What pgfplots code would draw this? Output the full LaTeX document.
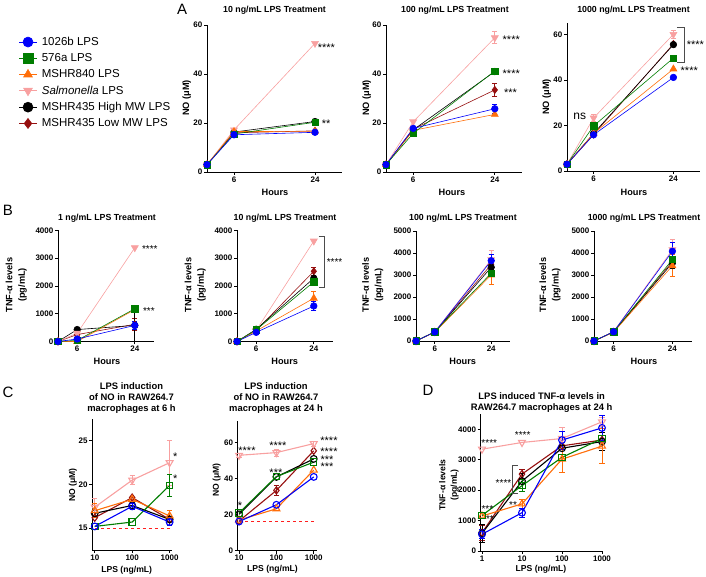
\documentclass[border=0pt]{standalone}
\usepackage{fontspec}
\setmainfont{Liberation Sans}
\usepackage{pgfplots}
\pgfplotsset{compat=1.18}

\definecolor{cBlue}{RGB}{0,0,250}
\definecolor{cGreen}{RGB}{0,125,0}
\definecolor{cOrange}{RGB}{255,110,10}
\definecolor{cPink}{RGB}{248,160,160}
\definecolor{cRed}{RGB}{150,15,15}
\definecolor{cDash}{RGB}{255,30,30}

\newcommand{\tkf}{\fontsize{8}{9}\selectfont\bfseries}
\newcommand{\ttf}{\fontsize{8.8}{11.3}\selectfont\bfseries}
\newcommand{\lbf}{\fontsize{9.2}{12.5}\selectfont\bfseries}
\newcommand{\slbf}{\fontsize{8.6}{11.5}\selectfont\bfseries}

\pgfplotsset{
  panel/.style={
    scale only axis, axis lines*=left, clip=false,
    axis line style={line width=0.9pt},
    tick align=outside, major tick length=3pt,
    every tick/.style={black, line width=0.8pt},
    ticklabel style={font=\tkf, inner sep=1.5pt},
    xminorticks=false, yminorticks=false,
    /pgf/number format/assume math mode=true,
    /pgf/number format/1000 sep={},
    scaled ticks=false,
  },
  hours/.style={panel, xmin=0, xmax=30, ymin=0, xtick={6,24}},
  f1/.style={cBlue, line width=0.6pt, mark=*, mark size=3.3pt, mark options={solid, fill=cBlue}},
  f2/.style={cGreen, line width=0.6pt, mark=square*, mark size=3.2pt, mark options={solid, fill=cGreen}},
  f3/.style={cOrange, line width=0.6pt, mark=triangle*, mark size=4pt, mark options={solid, fill=cOrange}},
  f4/.style={cPink, line width=0.6pt, mark=triangle*, mark size=4pt, mark options={solid, fill=cPink, rotate=180}},
  f5/.style={black, line width=0.6pt, mark=*, mark size=3.3pt, mark options={solid, fill=black}},
  f6/.style={cRed, line width=0.6pt, mark=diamond*, mark size=3.6pt, mark options={solid, fill=cRed}},
  o1/.style={cBlue, line width=1.1pt, mark=o, mark size=3.4pt, mark options={solid}},
  o2/.style={cGreen, line width=1.1pt, mark=square, mark size=3.2pt, mark options={solid}},
  o3/.style={cOrange, line width=1.1pt, mark=triangle, mark size=4pt, mark options={solid}},
  o4/.style={cPink, line width=1.1pt, mark=triangle, mark size=4pt, mark options={solid, rotate=180}},
  o5/.style={black, line width=1.1pt, mark=o, mark size=3.4pt, mark options={solid}},
  o6/.style={cRed, line width=1.1pt, mark=diamond, mark size=3.6pt, mark options={solid}},
}
\tikzset{ast/.style={font=\fontsize{11}{11}\selectfont, inner sep=0pt, yshift=-2.3pt},
  sast/.style={font=\fontsize{10}{10}\selectfont, inner sep=0pt, yshift=-2pt}}

% error bars of one series, color and coordinates
\newcommand{\eb}[2]{\addplot[forget plot, draw=none, mark=none,
  error bars/.cd, y dir=both, y explicit,
  error bar style={draw=#1, line width=0.8pt},
  error mark options={draw=#1, rotate=90, mark size=2.6pt, line width=0.8pt}]
  coordinates {#2};}

\begin{document}
\begin{tikzpicture}[x=1pt,y=1pt]
\path[use as bounding box] (0pt,0pt) rectangle (706pt,577pt);

% ---------------- A ----------------
\begin{axis}[hours, at={(207pt,405pt)}, anchor=south west, width=135pt, height=147pt,
  ymax=60, ytick={0,20,40,60}, reverse legend,
  legend style={at={(-1.415,0.946)}, anchor=north west, draw=none, fill=none,
    font=\fontsize{11.5}{13}\selectfont, row sep=2.6pt, cells={anchor=west},
    /tikz/every odd column/.append style={column sep=3pt}},
  legend image post style={mark size=5pt}]
\addplot[f6] coordinates {(0,3)(6,16)(24,16.8)}; \addlegendentry{MSHR435 Low MW LPS}
\addplot[f5] coordinates {(0,3)(6,16.3)(24,20.6)}; \addlegendentry{MSHR435 High MW LPS}
\addplot[f4] coordinates {(0,3)(6,17.2)(24,52.5)}; \addlegendentry{\textit{Salmonella} LPS}
\addplot[f3] coordinates {(0,3)(6,16.5)(24,16.6)}; \addlegendentry{MSHR840 LPS}
\addplot[f2] coordinates {(0,3)(6,15.5)(24,20.3)}; \addlegendentry{576a LPS}
\addplot[f1] coordinates {(0,3)(6,15.2)(24,16.2)}; \addlegendentry{1026b LPS}
\node[ast, anchor=west] at (axis cs:24.6,51.8) {****};
\node[ast, anchor=west] at (axis cs:25.5,20.8) {**};
\end{axis}

\begin{axis}[hours, at={(386pt,405pt)}, anchor=south west, width=136pt, height=147pt,
  ymax=60, ytick={0,20,40,60}]
\addplot[f6] coordinates {(0,3)(6,17.5)(24,33.5)};
\addplot[f5] coordinates {(0,3)(6,17.2)(24,41)};
\addplot[f4] coordinates {(0,3)(6,20.5)(24,54.8)};
\addplot[f3] coordinates {(0,3)(6,17)(24,23.5)};
\addplot[f2] coordinates {(0,3)(6,15.8)(24,41.2)};
\addplot[f1] coordinates {(0,3)(6,17.8)(24,25.8)};
\eb{cRed}{(24,33.5) +- (0,2.8)}
\eb{cPink}{(24,54.8) +- (0,2.5)}
\eb{cBlue}{(24,25.8) +- (0,1.8)}
\node[ast, anchor=west] at (axis cs:25.7,54.8) {****};
\node[ast, anchor=west] at (axis cs:25.7,41.2) {****};
\node[ast, anchor=west] at (axis cs:26,33.5) {***};
\end{axis}

\begin{axis}[hours, at={(567pt,406pt)}, anchor=south west, width=133pt, height=148pt,
  ymax=65, ytick={0,20,40,60}]
\addplot[f6] coordinates {(0,3)(6,16)(24,55.8)};
\addplot[f5] coordinates {(0,3)(6,16.5)(24,55.5)};
\addplot[f4] coordinates {(0,3)(6,23.3)(24,60)};
\addplot[f3] coordinates {(0,3)(6,16.5)(24,44.8)};
\addplot[f2] coordinates {(0,3)(6,19.8)(24,49.6)};
\addplot[f1] coordinates {(0,3)(6,15.9)(24,41.1)};
\eb{cPink}{(6,23.3) +- (0,1.5) (24,60) +- (0,1.8)}
\draw[black!70, line width=0.8pt] (axis cs:24.8,63) -- (axis cs:26.4,63) -- (axis cs:26.4,47.6) -- (axis cs:24.8,47.6);
\node[ast, anchor=west] at (axis cs:27,56.4) {****};
\node[ast, anchor=west] at (axis cs:25.6,44.9) {****};
\node[font=\fontsize{12}{12}\selectfont, anchor=west, inner sep=0pt] at (axis cs:1.4,23.8) {ns};
\end{axis}

\node[font=\fontsize{15}{15}\selectfont] at (182pt,568pt) {A};
\node[font=\ttf] at (274.5pt,567pt) {10 ng/mL LPS Treatment};
\node[font=\ttf] at (455pt,567pt) {100 ng/mL LPS Treatment};
\node[font=\ttf] at (633.5pt,567pt) {1000 ng/mL LPS Treatment};
\node[font=\lbf, rotate=90] at (186.7pt,479pt) {NO (μM)};
\node[font=\lbf, rotate=90] at (366.7pt,479pt) {NO (μM)};
\node[font=\lbf, rotate=90] at (546.7pt,480pt) {NO (μM)};
\node[font=\lbf] at (275pt,385pt) {Hours};
\node[font=\lbf] at (452pt,385pt) {Hours};
\node[font=\lbf] at (634pt,385pt) {Hours};

% ---------------- B ----------------
\begin{axis}[hours, at={(58pt,235.5pt)}, anchor=south west, width=96pt, height=111pt,
  ymax=4000, ytick={0,1000,2000,3000,4000}]
\addplot[f6] coordinates {(0,0)(6,250)(24,620)};
\addplot[f5] coordinates {(0,0)(6,430)(24,580)};
\addplot[f4] coordinates {(0,0)(6,300)(24,3380)};
\addplot[f3] coordinates {(0,0)(6,0)(24,1150)};
\addplot[f2] coordinates {(0,0)(6,40)(24,1180)};
\addplot[f1] coordinates {(0,0)(6,90)(24,580)};
\eb{cRed}{(24,620) +- (0,230)}
\eb{black}{(24,580) +- (0,580)}
\eb{cBlue}{(24,580) +- (0,150)}
\node[sast, anchor=west] at (axis cs:26.2,3388) {****};
\node[sast, anchor=west] at (axis cs:26.5,1180) {***};
\end{axis}

\begin{axis}[hours, at={(237pt,235.5pt)}, anchor=south west, width=96pt, height=111pt,
  ymax=4000, ytick={0,1000,2000,3000,4000}]
\addplot[f6] coordinates {(0,0)(6,400)(24,2530)};
\addplot[f5] coordinates {(0,0)(6,440)(24,2280)};
\addplot[f4] coordinates {(0,0)(6,400)(24,3620)};
\addplot[f3] coordinates {(0,0)(6,380)(24,1560)};
\addplot[f2] coordinates {(0,0)(6,420)(24,2150)};
\addplot[f1] coordinates {(0,0)(6,330)(24,1280)};
\eb{cRed}{(24,2530) +- (0,150)}
\eb{black}{(24,2280) +- (0,250)}
\eb{cOrange}{(24,1560) +- (0,250)}
\eb{cBlue}{(24,1280) +- (0,150)}
\draw[black!70, line width=0.8pt] (axis cs:25.5,3800) -- (axis cs:27.3,3800) -- (axis cs:27.3,1940) -- (axis cs:25.5,1940);
\node[sast, anchor=west] at (axis cs:28,2937) {****};
\end{axis}

\begin{axis}[hours, at={(416pt,236pt)}, anchor=south west, width=94pt, height=110pt,
  ymax=5000, ytick={0,1000,2000,3000,4000,5000}]
\addplot[f6] coordinates {(0,0)(6,410)(24,3480)};
\addplot[f5] coordinates {(0,0)(6,410)(24,3350)};
\addplot[f4] coordinates {(0,0)(6,420)(24,3700)};
\addplot[f3] coordinates {(0,0)(6,400)(24,3000)};
\addplot[f2] coordinates {(0,0)(6,420)(24,3080)};
\addplot[f1] coordinates {(0,0)(6,410)(24,3650)};
\eb{cPink}{(24,3700) +- (0,400)}
\eb{cOrange}{(24,3000) +- (0,420)}
\eb{cBlue}{(24,3650) +- (0,300)}
\end{axis}

\begin{axis}[hours, at={(594pt,236pt)}, anchor=south west, width=98pt, height=110pt,
  ymax=5000, ytick={0,1000,2000,3000,4000,5000}]
\addplot[f6] coordinates {(0,0)(6,420)(24,3620)};
\addplot[f5] coordinates {(0,0)(6,410)(24,3550)};
\addplot[f4] coordinates {(0,0)(6,430)(24,4150)};
\addplot[f3] coordinates {(0,0)(6,400)(24,3420)};
\addplot[f2] coordinates {(0,0)(6,420)(24,3700)};
\addplot[f1] coordinates {(0,0)(6,420)(24,4080)};
\eb{cPink}{(24,4150) +- (0,450)}
\eb{cOrange}{(24,3420) +- (0,500)}
\eb{black}{(24,3550) +- (0,250)}
\eb{cBlue}{(24,4080) +- (0,400)}
\end{axis}

\node[font=\fontsize{15}{15}\selectfont] at (8pt,367pt) {B};
\node[font=\ttf] at (107pt,359pt) {1 ng/mL LPS Treatment};
\node[font=\ttf] at (285pt,359pt) {10 ng/mL LPS Treatment};
\node[font=\ttf] at (463pt,359pt) {100 ng/mL LPS Treatment};
\node[font=\ttf] at (644pt,359pt) {1000 ng/mL LPS Treatment};
\node[font=\lbf, rotate=90, align=center] at (16.3pt,292pt) {TNF-α levels\\(pg/mL)};
\node[font=\lbf, rotate=90, align=center] at (195.3pt,292pt) {TNF-α levels\\(pg/mL)};
\node[font=\lbf, rotate=90, align=center] at (372.7pt,292pt) {TNF-α levels\\(pg/mL)};
\node[font=\lbf, rotate=90, align=center] at (550pt,292pt) {TNF-α levels\\(pg/mL)};
\node[font=\lbf] at (107pt,216pt) {Hours};
\node[font=\lbf] at (284.7pt,216pt) {Hours};
\node[font=\lbf] at (462.7pt,216pt) {Hours};
\node[font=\lbf] at (644pt,216pt) {Hours};

% ---------------- C ----------------
\begin{axis}[panel, at={(92.3pt,27pt)}, anchor=south west, width=80pt, height=131pt,
  xmode=log, xmin=8.6, xmax=1180, ymin=12.5, ymax=27.5, ytick={15,20,25},
  xtick={10,100,1000}, xticklabels={10,100,1000}]
\addplot[cDash, dashed, line width=1pt, forget plot] coordinates {(10,14.92)(1000,14.92)};
\addplot[o6] coordinates {(10,16.2)(100,18.5)(1000,16.0)};
\addplot[o5] coordinates {(10,16.7)(100,17.6)(1000,16.0)};
\addplot[o4] coordinates {(10,17.4)(100,20.5)(1000,22.5)};
\addplot[o3] coordinates {(10,17.0)(100,18.3)(1000,16.4)};
\addplot[o2] coordinates {(10,15.2)(100,15.7)(1000,19.9)};
\addplot[o1] coordinates {(10,15.2)(100,17.5)(1000,15.7)};
\eb{cPink}{(10,17.4) +- (0,1) (100,20.5) +- (0,0.5) (1000,22.5) +- (0,2.6)}
\eb{cOrange}{(10,17.0) +- (0,0.8) (1000,16.4) +- (0,0.6)}
\eb{cGreen}{(1000,19.9) +- (0,1.3)}
\eb{cBlue}{(100,17.5) +- (0,0.4) (1000,15.7) +- (0,0.4)}
\node[ast] at (axis cs:1422,23.4) {*};
\node[ast] at (axis cs:1422,20.9) {*};
\end{axis}

\begin{axis}[panel, at={(237.7pt,26.3pt)}, anchor=south west, width=79pt, height=129.6pt,
  xmode=log, xmin=9.2, xmax=1200, ymin=0, ymax=72, ytick={0,20,40,60},
  xtick={10,100,1000}, xticklabels={10,100,1000}]
\addplot[cDash, dashed, line width=1.1pt, forget plot] coordinates {(10,16.1)(1000,16.1)};
\addplot[o6] coordinates {(10,16.5)(100,33.5)(1000,55.5)};
\addplot[o5] coordinates {(10,20.2)(100,41)(1000,51)};
\addplot[o4] coordinates {(10,53)(100,54.5)(1000,59.5)};
\addplot[o3] coordinates {(10,17)(100,23.3)(1000,44.8)};
\addplot[o2] coordinates {(10,21)(100,41.2)(1000,49.2)};
\addplot[o1] coordinates {(10,16.2)(100,25.5)(1000,41)};
\eb{cPink}{(10,53) +- (0,1) (100,54.5) +- (0,2) (1000,59.5) +- (0,1.5)}
\eb{cRed}{(100,33.5) +- (0,3)}
\node[ast] at (axis cs:16.3,57) {****};
\node[ast] at (axis cs:110,59.8) {****};
\node[ast] at (axis cs:2560,62.2) {****};
\node[ast] at (axis cs:2560,56.1) {****};
\node[ast] at (axis cs:2265,51.9) {***};
\node[ast] at (axis cs:2265,47.9) {***};
\node[ast] at (axis cs:97,44.8) {***};
\node[ast] at (axis cs:10.6,26) {*};
\end{axis}

\node[font=\fontsize{15}{15}\selectfont] at (8pt,185pt) {C};
\node[font=\fontsize{9.4}{11.3}\selectfont\bfseries, align=center] at (131.5pt,179pt) {LPS induction\\of NO in RAW264.7\\macrophages at 6 h};
\node[font=\fontsize{9.4}{11.3}\selectfont\bfseries, align=center] at (276pt,179pt) {LPS induction\\of NO in RAW264.7\\macrophages at 24 h};
\node[font=\slbf, rotate=90] at (73pt,92pt) {NO (μM)};
\node[font=\slbf, rotate=90] at (216.7pt,97pt) {NO (μM)};
\node[font=\slbf] at (126.7pt,6.3pt) {LPS (ng/mL)};
\node[font=\slbf] at (272.5pt,7.7pt) {LPS (ng/mL)};

% ---------------- D ----------------
\begin{axis}[panel, at={(480.7pt,26pt)}, anchor=south west, width=122.3pt, height=136.8pt,
  xmode=log, xmin=0.928, xmax=1059, ymin=0, ymax=4500, ytick={0,1000,2000,3000,4000},
  xtick={1,10,100,1000}, xticklabels={1,10,100,1000}]
\addplot[o6] coordinates {(1,600)(10,2530)(100,3460)(1000,3650)};
\addplot[o5] coordinates {(1,580)(10,2300)(100,3380)(1000,3600)};
\addplot[o4] coordinates {(1,3350)(10,3570)(100,3700)(1000,4250)};
\addplot[o3] coordinates {(1,1150)(10,1550)(100,3020)(1000,3450)};
\addplot[o2] coordinates {(1,1170)(10,2150)(100,3080)(1000,3700)};
\addplot[o1] coordinates {(1,550)(10,1260)(100,3650)(1000,4050)};
\eb{cRed}{(1,600) +- (0,250) (10,2530) +- (0,150)}
\eb{black}{(1,580) +- (0,300) (10,2300) +- (0,250) (1000,3600) +- (0,300)}
\eb{cPink}{(100,3700) +- (0,350) (1000,4250) +- (0,150)}
\eb{cOrange}{(10,1550) +- (0,150) (100,3020) +- (0,450) (1000,3450) +- (0,580)}
\eb{cGreen}{(10,2150) +- (0,200)}
\eb{cBlue}{(1,550) +- (0,150) (10,1260) +- (0,150) (100,3650) +- (0,300) (1000,4050) +- (0,400)}
\draw[black!70, line width=0.8pt] (axis cs:7.9,2829) -- (axis cs:5.85,2829) -- (axis cs:5.85,1898) -- (axis cs:7.9,1898);
\node[sast] at (axis cs:1.52,3618) {****};
\node[sast] at (axis cs:10.4,3891) {****};
\node[sast] at (axis cs:3.45,2303) {****};
\node[sast] at (axis cs:5.96,1589) {**};
\node[sast] at (axis cs:1.36,1437) {***};
\node[sast] at (axis cs:1.58,1128) {**};
\end{axis}

\node[font=\fontsize{15}{15}\selectfont] at (428pt,187pt) {D};
\node[font=\fontsize{9.4}{11.6}\selectfont\bfseries, align=center] at (541.7pt,174.5pt) {LPS induced TNF-α levels in\\RAW264.7 macrophages at 24 h};
\node[font=\slbf, rotate=90, align=center] at (449pt,92pt) {TNF-α levels\\(pg/mL)};
\node[font=\slbf] at (541pt,7.7pt) {LPS (ng/mL)};
\end{tikzpicture}
\end{document}
